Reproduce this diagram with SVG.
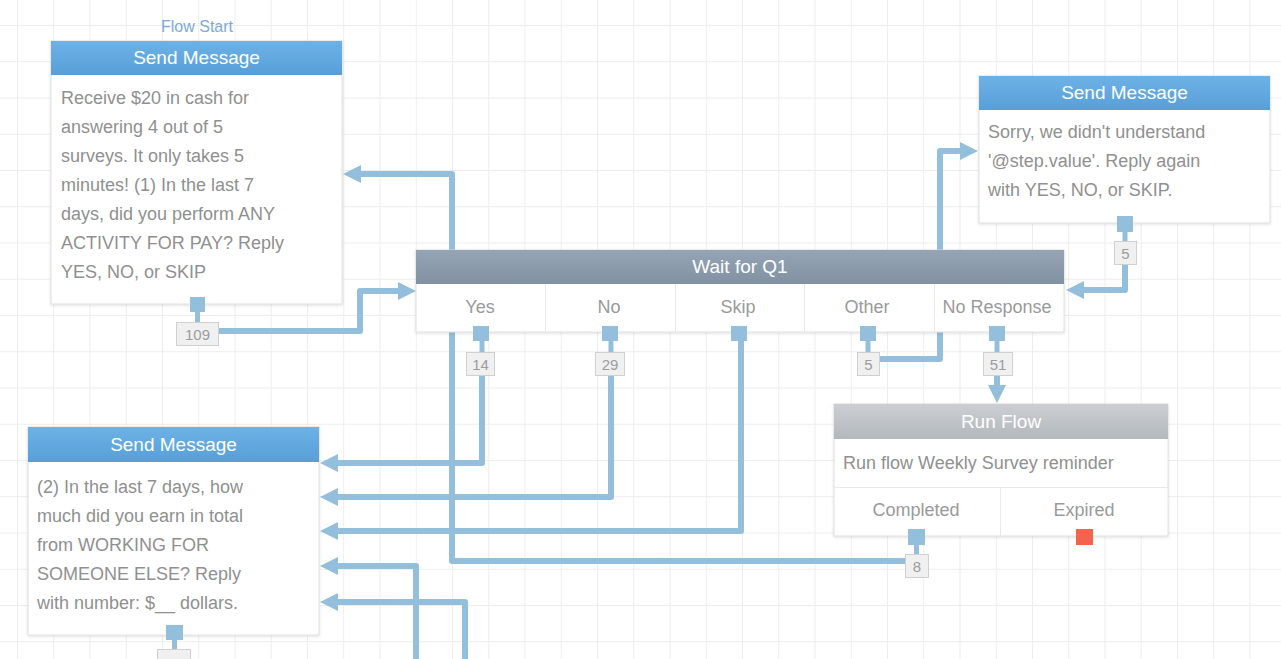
<svg xmlns="http://www.w3.org/2000/svg" width="1281" height="659" viewBox="0 0 1281 659">
<style>
  text { font-family: "Liberation Sans", Arial, sans-serif; }
  .body { fill: #ffffff; stroke: #dedede; stroke-width: 1; }
  .title { fill: #ffffff; font-size: 19px; text-anchor: middle; }
  .txt { fill: #909090; font-size: 18px; }
  .cat { fill: #9a9a9a; font-size: 18px; text-anchor: middle; }
  .port { fill: #93bfdc; }
  .stem { stroke: #93bfdc; stroke-width: 5; }
  .badge { fill: #f0f0f0; stroke: #d0d0d0; stroke-width: 1; }
  .btxt { fill: #9c9c9c; font-size: 15px; text-anchor: middle; }
  .conn { fill: none; stroke: #93bfdc; stroke-width: 6; stroke-linejoin: round; }
  .div { stroke: #e9e9e9; stroke-width: 1; }
</style>
<defs>
  <pattern id="grid" x="17" y="25" width="36.25" height="36.25" patternUnits="userSpaceOnUse">
    <path d="M0,0.5 H36.25 M0.5,0 V36.25" fill="none" stroke="#ededed" stroke-width="1"/>
  </pattern>
  <linearGradient id="gBlue" x1="0" y1="0" x2="0" y2="1">
    <stop offset="0" stop-color="#6db2e6"/>
    <stop offset="1" stop-color="#589fd8"/>
  </linearGradient>
  <linearGradient id="gWait" x1="0" y1="0" x2="0" y2="1">
    <stop offset="0" stop-color="#8d9dae"/>
    <stop offset="1" stop-color="#76889b"/>
  </linearGradient>
  <linearGradient id="gRun" x1="0" y1="0" x2="0" y2="1">
    <stop offset="0" stop-color="#cbcfd3"/>
    <stop offset="1" stop-color="#b3b8bc"/>
  </linearGradient>
  <filter id="sh" x="-5%" y="-5%" width="110%" height="115%">
    <feDropShadow dx="0" dy="1" stdDeviation="1.5" flood-color="#000" flood-opacity="0.12"/>
  </filter>
  <marker id="arr" markerUnits="userSpaceOnUse" markerWidth="18" markerHeight="18" viewBox="0 0 18 18" refX="6" refY="9" orient="auto">
    <path d="M0,0 L18,9 L0,18 Z" fill="#93bfdc"/>
  </marker>
</defs>

<rect x="0" y="0" width="1281" height="659" fill="#ffffff"/>
<rect x="0" y="0" width="1281" height="659" fill="url(#grid)"/>

<g id="connectors">
  <path class="conn" marker-end="url(#arr)" d="M219,331 H360 V291 H404"/>
  <path class="conn" marker-end="url(#arr)" d="M905,561 H452 V174 H355"/>
  <path class="conn" marker-end="url(#arr)" d="M482,375 V463 H332"/>
  <path class="conn" marker-end="url(#arr)" d="M611,375 V497 H332"/>
  <path class="conn" marker-end="url(#arr)" d="M741,341 V531 H332"/>
  <path class="conn" marker-end="url(#arr)" d="M416,662 V566 H332"/>
  <path class="conn" marker-end="url(#arr)" d="M465,662 V602 H332"/>
  <path class="conn" marker-end="url(#arr)" d="M879,359 H940 V151 H966"/>
  <path class="conn" marker-end="url(#arr)" d="M1125,264 V290 H1078"/>
  <path class="conn" marker-end="url(#arr)" d="M997,376 V391"/>
</g>

<g id="flow-start-label">
  <text x="197" y="32" font-size="16" fill="#7ea9d8" text-anchor="middle">Flow Start</text>
</g>

<g id="send-message-1">
  <rect class="body" x="51" y="41" width="291" height="263" filter="url(#sh)"/>
  <rect x="51" y="41" width="291" height="34" fill="url(#gBlue)"/>
  <text class="title" x="196.5" y="64">Send Message</text>
  <text class="txt" x="61" y="104">Receive $20 in cash for</text>
  <text class="txt" x="61" y="133">answering 4 out of 5</text>
  <text class="txt" x="61" y="162">surveys. It only takes 5</text>
  <text class="txt" x="61" y="191">minutes! (1) In the last 7</text>
  <text class="txt" x="61" y="220">days, did you perform ANY</text>
  <text class="txt" x="61" y="249">ACTIVITY FOR PAY? Reply</text>
  <text class="txt" x="61" y="278">YES, NO, or SKIP</text>
  <rect class="port" x="190" y="297" width="15" height="15"/>
  <line class="stem" x1="197.5" y1="312" x2="197.5" y2="322"/>
  <rect class="badge" x="176.5" y="322.5" width="42" height="23"/>
  <text class="btxt" x="197.5" y="339.5">109</text>
</g>

<g id="wait-q1">
  <rect class="body" x="416" y="250" width="648" height="82" filter="url(#sh)"/>
  <rect x="416" y="250" width="648" height="34" fill="url(#gWait)" fill-opacity="0.92"/>
  <text class="title" x="740" y="273">Wait for Q1</text>
  <line class="div" x1="545.5" y1="284" x2="545.5" y2="332"/>
  <line class="div" x1="675.5" y1="284" x2="675.5" y2="332"/>
  <line class="div" x1="804.5" y1="284" x2="804.5" y2="332"/>
  <line class="div" x1="934.5" y1="284" x2="934.5" y2="332"/>
  <text class="cat" x="480" y="313">Yes</text>
  <text class="cat" x="609" y="313">No</text>
  <text class="cat" x="738" y="313">Skip</text>
  <text class="cat" x="867" y="313">Other</text>
  <text class="cat" x="997" y="313">No Response</text>
  <rect class="port" x="473" y="326" width="16" height="15"/>
  <rect class="port" x="602" y="326" width="16" height="15"/>
  <rect class="port" x="731" y="326" width="16" height="15"/>
  <rect class="port" x="860" y="326" width="16" height="15"/>
  <rect class="port" x="989" y="326" width="16" height="15"/>
  <line class="stem" x1="482" y1="341" x2="482" y2="352"/>
  <line class="stem" x1="611" y1="341" x2="611" y2="352"/>
  <line class="stem" x1="868" y1="341" x2="868" y2="352"/>
  <line class="stem" x1="997" y1="341" x2="997" y2="352"/>
  <rect class="badge" x="466.5" y="352.5" width="28" height="23"/>
  <text class="btxt" x="480.5" y="369.5">14</text>
  <rect class="badge" x="595.5" y="352.5" width="29" height="23"/>
  <text class="btxt" x="610" y="369.5">29</text>
  <rect class="badge" x="857.5" y="352.5" width="22" height="23"/>
  <text class="btxt" x="868.5" y="369.5">5</text>
  <rect class="badge" x="983.5" y="352.5" width="29" height="23"/>
  <text class="btxt" x="998" y="369.5">51</text>
</g>

<g id="send-message-retry">
  <rect class="body" x="979" y="76" width="291" height="147" filter="url(#sh)"/>
  <rect x="979" y="76" width="291" height="34" fill="url(#gBlue)"/>
  <text class="title" x="1124.5" y="99">Send Message</text>
  <text class="txt" x="988" y="138">Sorry, we didn't understand</text>
  <text class="txt" x="988" y="167">'@step.value'. Reply again</text>
  <text class="txt" x="988" y="196">with YES, NO, or SKIP.</text>
  <rect class="port" x="1117" y="216" width="16" height="16"/>
  <line class="stem" x1="1125" y1="232" x2="1125" y2="241"/>
  <rect class="badge" x="1114.5" y="241.5" width="22" height="23"/>
  <text class="btxt" x="1125.5" y="258.5">5</text>
</g>

<g id="run-flow">
  <rect class="body" x="834" y="404" width="334" height="132" filter="url(#sh)"/>
  <rect x="834" y="404" width="334" height="35" fill="url(#gRun)"/>
  <text class="title" x="1001" y="428">Run Flow</text>
  <text class="txt" x="843" y="469">Run flow Weekly Survey reminder</text>
  <line class="div" x1="834" y1="487.5" x2="1168" y2="487.5"/>
  <line class="div" x1="1000.5" y1="487" x2="1000.5" y2="536"/>
  <text class="cat" x="916" y="516">Completed</text>
  <text class="cat" x="1084" y="516">Expired</text>
  <rect class="port" x="908" y="529" width="17" height="16"/>
  <rect x="1076" y="529" width="17" height="16" fill="#f5634f"/>
  <line class="stem" x1="916.5" y1="545" x2="916.5" y2="554"/>
  <rect class="badge" x="905.5" y="554.5" width="23" height="23"/>
  <text class="btxt" x="917" y="571.5">8</text>
</g>

<g id="send-message-2">
  <rect class="body" x="28" y="427" width="291" height="208" filter="url(#sh)"/>
  <rect x="28" y="427" width="291" height="35" fill="url(#gBlue)"/>
  <text class="title" x="173.5" y="451">Send Message</text>
  <text class="txt" x="37" y="493">(2) In the last 7 days, how</text>
  <text class="txt" x="37" y="522">much did you earn in total</text>
  <text class="txt" x="37" y="551">from WORKING FOR</text>
  <text class="txt" x="37" y="580">SOMEONE ELSE? Reply</text>
  <text class="txt" x="37" y="609">with number: $__ dollars.</text>
  <rect class="port" x="166" y="625" width="17" height="15"/>
  <line class="stem" x1="174.5" y1="640" x2="174.5" y2="649"/>
  <rect class="badge" x="157.5" y="649.5" width="33" height="23"/>
</g>
</svg>
